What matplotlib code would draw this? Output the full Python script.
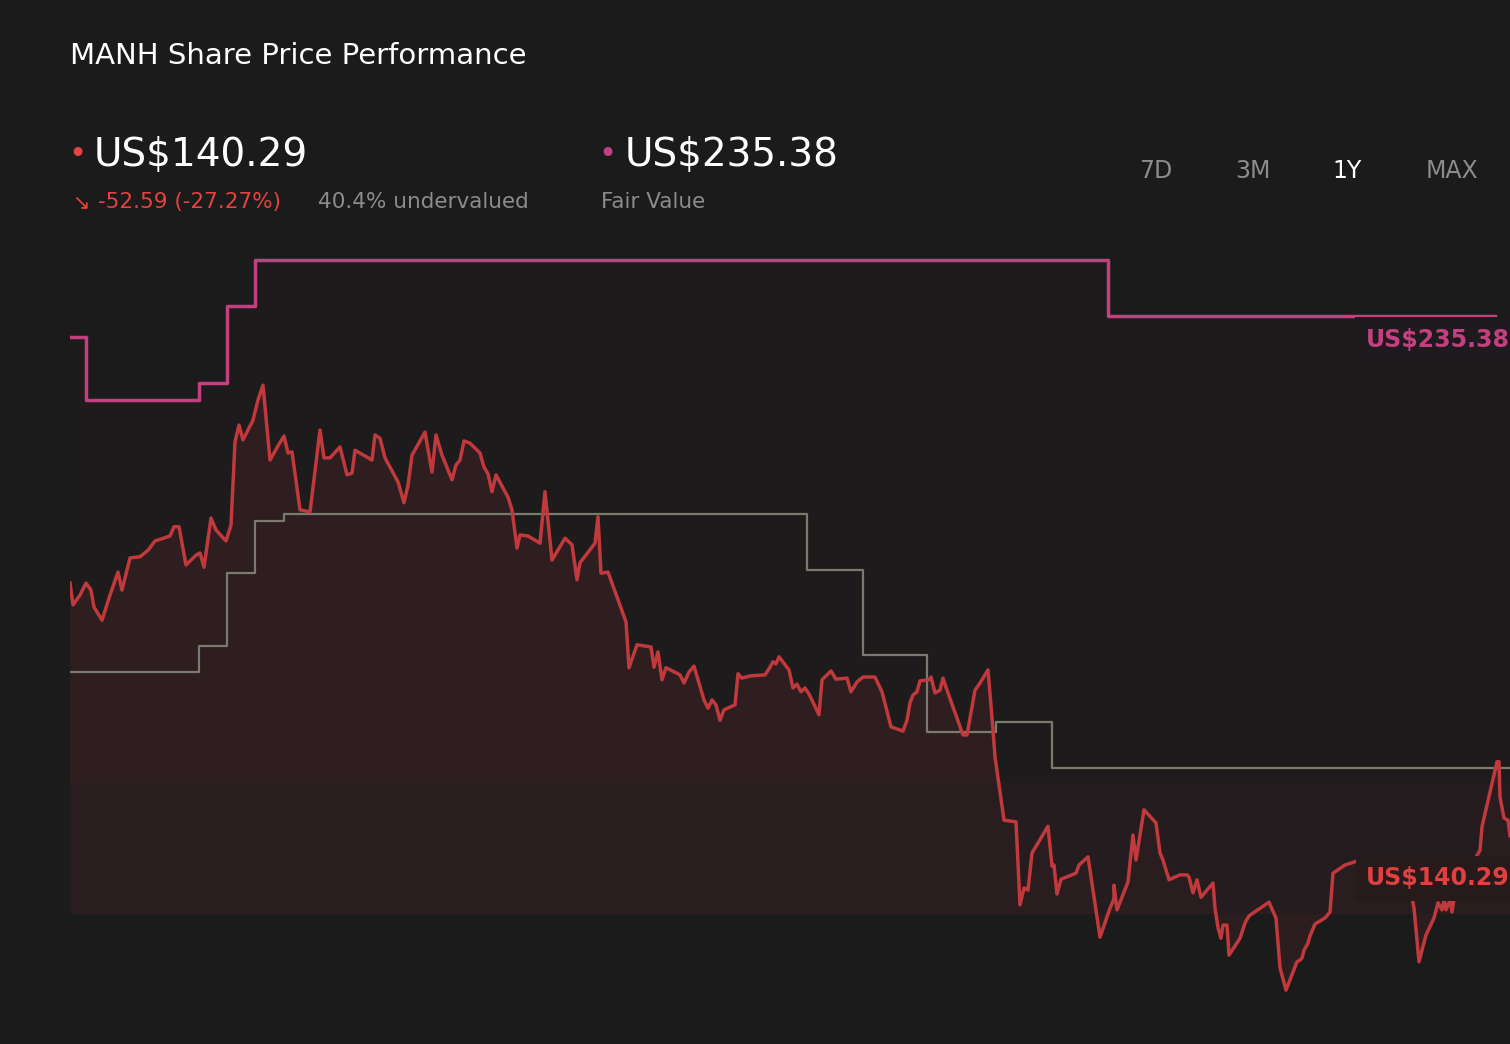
import matplotlib
matplotlib.use("Agg")
import matplotlib.pyplot as plt
import numpy as np

days = [0,0.75,2.5,4,5.25,6,8,10,12,13,15,17.5,19.5,21.25,25,26,27.25,29,31.5,32.5,
 33.5,35.25,36.5,39,40.25,41.25,42.25,43.25,45.75,47,48.25,50,52,53.5,54.5,55.5,57.5,60,62.5,63.5,
 65,67.5,69.25,70.5,71.25,75.5,76.25,77.5,78.75,82,83.5,84.5,85.5,88.75,90.5,91.5,93,95.5,96.5,97.5,
 98.5,100,102.5,103.5,104.5,105.5,106.5,109.5,110.5,111.75,112.5,114.5,117.5,118.75,120.5,123.75,125.5,126.75,127.5,131.25,
 132,132.75,134.5,139,139.75,141.75,145.25,146,147,148,149,152.5,153.5,154.75,156,158.5,159.5,160.5,161.5,162.5,
 163.5,166.25,167,168,170,173.75,174.75,175.75,176.5,177.25,179.75,180.75,181.75,182.75,183.75,184.75,187.25,188,190.25,191.5,
 194.25,195.25,196.75,198.25,201.25,203,205.25,208.25,209.25,210,210.75,211.75,212.5,214.75,215.25,216.25,217.5,218.25,219.25,223.25,
 224.25,226.25,227.5,229.5,230.75,231.25,233.5,236.5,237.5,238.5,239.5,240.5,244.5,245.5,246,246.75,247.75,251.5,252.25,254.5,
 257.5,260,261,261,261.75,264.5,265.75,266.5,268.5,271.5,272.5,273.25,274.75,277.5,279.25,279.75,280.75,281.75,282.75,285.75,
 286.25,287,287.75,288.25,289.25,289.75,292.5,293.75,294.75,299.75,301.5,302.5,304,306.75,307.5,308,308.5,309.5,310,311.25,
 313.75,315,315.75,318.75,322.5,325,328.75,331.25,333.75,335,336,337.25,339,341,342,343,343.5,344,345,345.5,
 346.25,352.5,353,356.75,357.25,357.5,358.5,359.5,360]
price = [186.5,182.5,184.3,186.5,185.2,182.1,179.7,184.3,188.5,185.2,191.1,191.3,192.5,194.2,195.1,196.8,196.8,189.8,191.6,192.0,
 189.4,198.4,196.2,194.2,197.1,212.3,215.4,212.7,216.3,220.0,222.7,209.0,211.6,213.4,210.3,210.5,199.9,199.5,214.5,209.4,
 209.4,211.4,206.3,206.6,210.8,209.0,213.6,213.0,209.4,205.0,201.2,204.4,209.9,214.1,206.8,213.6,209.9,205.4,208.1,209.0,
 212.5,212.1,210.3,207.7,206.5,203.2,206.3,202.2,199.9,192.9,195.3,195.1,193.8,203.2,190.7,194.7,193.5,187.1,190.2,193.8,
 198.6,188.3,188.5,179.4,171.0,175.2,174.8,171.1,173.9,168.8,171.0,169.7,168.2,170.2,171.3,165.1,163.6,165.1,164.2,161.4,
 163.3,164.2,169.9,169.1,169.5,169.7,170.8,172.1,171.7,173.0,170.6,167.3,168.0,166.6,167.3,166.2,162.4,168.8,170.4,168.9,
 169.1,166.6,168.4,169.3,169.3,166.6,160.2,159.4,161.4,164.6,166.0,166.6,168.6,168.8,169.3,166.4,166.9,169.1,166.9,158.7,
 158.7,166.9,168.2,170.6,159.6,154.7,143.1,142.8,127.6,130.7,130.3,137.1,142.0,134.7,134.9,129.6,132.3,133.4,134.9,136.4,
 121.7,127.0,128.7,131.2,126.7,131.8,140.4,135.8,145.0,142.6,137.1,135.8,132.2,133.1,133.1,132.7,129.8,132.2,129.0,131.6,
 127.0,123.4,121.5,123.9,123.9,118.4,121.5,124.3,125.6,128.1,125.2,116.1,112.0,117.2,117.5,117.9,119.3,120.6,121.9,124.1,
 125.2,126.3,133.4,134.9,135.8,134.0,135.8,134.0,132.5,131.2,127.0,117.2,122.1,125.2,128.0,126.7,128.5,126.7,128.5,126.3,
 129.8,137.6,141.9,153.8,153.8,147.3,143.5,143.1,140.29]
n = min(len(days), len(price))
days = days[:n]; price = price[:n]

fv_days = [0, 4, 32.25, 39.25, 46.25, 259.5, 356.25]
fv_vals = [231.5, 220.0, 223.1, 237.2, 245.6, 235.38, 235.38]

gray_days = [0, 32.25, 39.25, 46.25, 53.5, 184.25, 198.25, 214.25, 231.5, 245.5, 360]
gray_vals = [170.2, 175.0, 188.3, 197.8, 199.1, 188.9, 173.3, 159.2, 161.1, 152.7, 152.7]

BG = "#1b1b1b"
RED = "#c0393c"
PINK = "#c2407f"

fig = plt.figure(figsize=(15.1, 10.44), dpi=100, facecolor=BG)
ax = fig.add_axes([70/1510, 44/1044, 1440/1510, 770/1044])
ax.set_facecolor(BG)
ymin, ymax = 110.2, 251.1
ax.set_xlim(0, 360)
ax.set_ylim(ymin, ymax)
for s in ax.spines.values():
    s.set_visible(False)
ax.set_xticks([]); ax.set_yticks([])

ax.step(fv_days, fv_vals, where="post", color=PINK, lw=2.5, zorder=3)
fvx = fv_days + [360]
fvy = fv_vals + [fv_vals[-1]]
ax.fill_between(fvx, fvy, 126, step="post", color=PINK, alpha=0.025, lw=0, zorder=1)

ax.step(gray_days, gray_vals, where="post", color="#7a7a6e", lw=1.6, zorder=2)

# gradient-like price fill: stacked thin fills with decreasing alpha
ax.fill_between(days, price, 126, color=RED, alpha=0.07, lw=0, zorder=1)
ax.fill_between(days, price, 150, color=RED, alpha=0.04, lw=0, zorder=1)
ax.plot(days, price, color=RED, lw=2.5, zorder=4)

ax.text(1.0, 231.0, "US$235.38", transform=ax.get_yaxis_transform(), ha="right", va="center",
        color=PINK, fontsize=17, fontweight="bold", zorder=6,
        bbox=dict(boxstyle="square,pad=0.45", fc="#1f1a1d", ec="none"))
ax.text(1.0, 132.5, "US$140.29", transform=ax.get_yaxis_transform(), ha="right", va="center",
        color="#e0403f", fontsize=17, fontweight="bold", zorder=6,
        bbox=dict(boxstyle="square,pad=0.45", fc="#261a1a", ec="none"))

W, H = 1510, 1044
def ft(x, y, s, **kw):
    fig.text(x / W, 1 - y / H, s, **kw)
ft(70, 56, "MANH Share Price Performance", color="white", fontsize=21, va="center")
ft(68, 155, "•", color="#e5433f", fontsize=22, va="center")
ft(94, 155, "US$140.29", color="white", fontsize=28, va="center")
ft(72, 202, "↘", color="#e5433f", fontsize=15, va="center")
ft(98, 202, "-52.59 (-27.27%)", color="#e5433f", fontsize=15.5, va="center")
ft(318, 202, "40.4% undervalued", color="#8c8c8c", fontsize=15.5, va="center")
ft(598, 155, "•", color=PINK, fontsize=22, va="center")
ft(625, 155, "US$235.38", color="white", fontsize=28, va="center")
ft(601, 202, "Fair Value", color="#8c8c8c", fontsize=15.5, va="center")
for lbl, x, c in [("7D", 1156, "#8c8c8c"), ("3M", 1253, "#8c8c8c"), ("1Y", 1347, "white"), ("MAX", 1452, "#8c8c8c")]:
    ft(x, 171, lbl, color=c, fontsize=17, va="center", ha="center")

fig.savefig("out.png", dpi=100, facecolor=BG)
